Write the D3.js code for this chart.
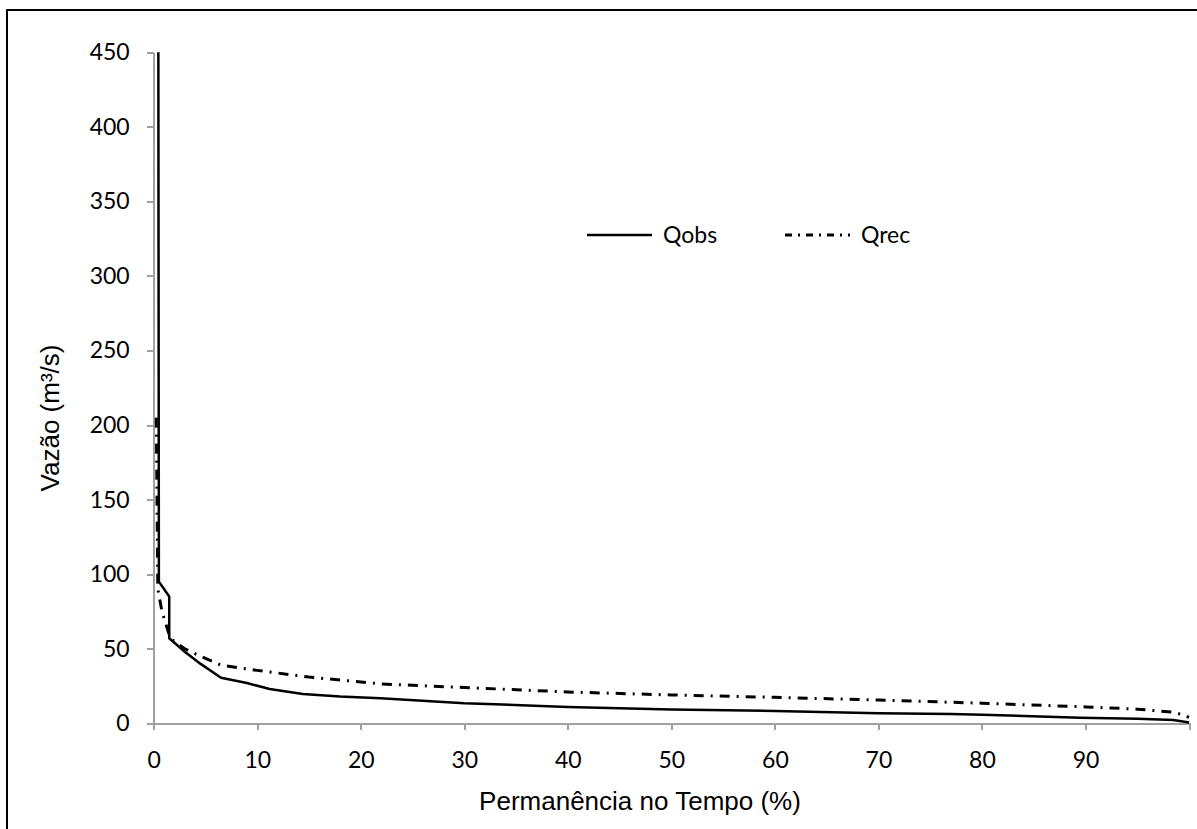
<!DOCTYPE html>
<html lang="pt">
  <head>
    <meta charset="utf-8">
    <title>Curva de permanência</title>
    <script src="https://cdn.jsdelivr.net/npm/d3@7"></script>
    <style type="text/css">
      body { margin: 0; background: #fff; }
      .axis path, .axis line { stroke: #a0a0a0; stroke-width: 2; shape-rendering: crispEdges; }
      .axis text { font-family: Lato, "Open Sans", sans-serif; font-size: 23px; fill: #000; }
      .title { font-family: "Liberation Sans", Arial, sans-serif; font-size: 26px; fill: #000; }
      .legend { font-family: Lato, "Open Sans", sans-serif; font-size: 23px; fill: #000; }
    </style>
  </head>
  <body>
    <script type="text/javascript">
      var w = 1197, h = 829;

      // permanência (%) e vazão (m³/s)
      var qobsPct = [0.45, 0.5, 1.5, 1.5, 3, 4.5, 6.5, 9, 11.2, 14.4, 18, 21.9, 30, 40, 50, 60, 70, 77, 80, 89.5, 95, 98.5, 100];
      var qobsVal = [450, 95, 85, 57, 48, 40, 30.6, 27, 23, 19.7, 18, 16.8, 13.5, 11, 9.2, 8.3, 6.8, 6.2, 5.8, 3.8, 3, 2.2, 0.5];
      var qrecPct = [0.25, 0.4, 0.8, 1.6, 3, 4.5, 6.5, 10, 15, 22, 30, 40, 50, 60, 70, 77, 80, 90, 95, 98.5, 99.5, 100];
      var qrecVal = [205, 90, 75, 57, 50, 45, 39, 35.5, 31, 26.4, 24, 21, 19, 17.4, 15.6, 14.1, 13.5, 11, 9.5, 7.4, 5.5, 4];
      var xTicks = [0, 10, 20, 30, 40, 50, 60, 70, 80, 90, 100];
      var yTicks = [0, 50, 100, 150, 200, 250, 300, 350, 400, 450];

      var qobs = qobsPct.map(function(p, i) { return [p, qobsVal[i]]; });
      var qrec = qrecPct.map(function(p, i) { return [p, qrecVal[i]]; });

      var xScale = d3.scaleLinear().domain([0, 100]).range([153.7, 1189]);
      var yScale = d3.scaleLinear().domain([0, 450]).range([723.3, 52.3]);

      var svg = d3.select("body").append("svg")
          .attr("width", w)
          .attr("height", h);

      // frame (only left and top edges are inside the picture)
      svg.append("path")
          .attr("d", "M7," + h + "V10H" + w)
          .attr("fill", "none")
          .attr("stroke", "#000")
          .attr("stroke-width", 2);

      var xAxis = d3.axisBottom(xScale)
          .tickValues(xTicks)
          .tickSize(7)
          .tickSizeOuter(0)
          .tickPadding(21)
          .tickFormat(function(d) { return d === 100 ? "" : d; });

      var yAxis = d3.axisLeft(yScale)
          .tickValues(yTicks)
          .tickSize(7)
          .tickSizeOuter(0)
          .tickPadding(17);

      svg.append("g")
          .attr("class", "axis")
          .attr("transform", "translate(0," + yScale(0) + ")")
          .call(xAxis);

      svg.append("g")
          .attr("class", "axis")
          .attr("transform", "translate(" + xScale(0) + ",0)")
          .call(yAxis);

      var line = d3.line()
          .x(function(d) { return xScale(d[0]); })
          .y(function(d) { return yScale(d[1]); });

      svg.append("path")
          .datum(qrec)
          .attr("fill", "none")
          .attr("stroke", "#000")
          .attr("stroke-width", 3)
          .attr("stroke-dasharray", "10,7,2,7")
          .attr("d", line);

      svg.append("path")
          .datum(qobs)
          .attr("fill", "none")
          .attr("stroke", "#000")
          .attr("stroke-width", 2.5)
          .attr("stroke-linejoin", "round")
          .attr("d", line);

      // axis titles
      svg.append("text")
          .attr("class", "title")
          .attr("x", 640)
          .attr("y", 810)
          .attr("text-anchor", "middle")
          .text("Permanência no Tempo (%)");

      svg.append("text")
          .attr("class", "title")
          .attr("transform", "translate(59,418) rotate(-90)")
          .attr("text-anchor", "middle")
          .text("Vazão (m³/s)");

      // legend
      var legend = [
        { name: "Qobs", x: 587, dash: null, width: 2.5 },
        { name: "Qrec", x: 785, dash: "7,6,2,6", width: 3 }
      ];
      var lg = svg.selectAll(".lg").data(legend).enter().append("g")
          .attr("class", "lg")
          .attr("transform", function(d) { return "translate(" + d.x + ",235)"; });
      lg.append("line")
          .attr("x1", 0).attr("x2", 65)
          .attr("stroke", "#000")
          .attr("stroke-width", function(d) { return d.width; })
          .attr("stroke-dasharray", function(d) { return d.dash; });
      lg.append("text")
          .attr("class", "legend")
          .attr("x", 76)
          .attr("y", 8)
          .text(function(d) { return d.name; });
    </script>
  </body>
</html>
